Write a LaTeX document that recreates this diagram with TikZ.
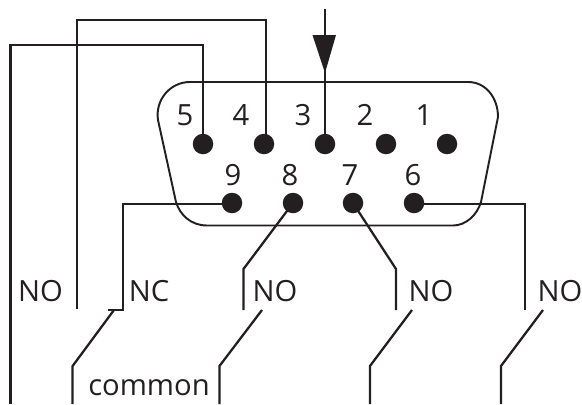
\documentclass[tikz,border=0pt]{standalone}
\usepackage{fontspec}
\setmainfont{Open Sans}
\definecolor{ink}{HTML}{231F20}
\tikzset{
  pin/.style={circle,fill=ink,inner sep=0pt,minimum size=20.5*0.75pt},
  lbl/.style={text=ink,inner sep=0pt,font=\fontsize{21.9pt}{24pt}\selectfont,anchor=center},
  wire/.style={draw=ink,line width=1.7pt,line join=miter},
  shell/.style={draw=ink,line width=1.45pt}
}
\begin{document}
\begin{tikzpicture}[x=0.75pt,y=-0.75pt]
\useasboundingbox (0,0) rectangle (582,404);
% shell
\draw[shell] (190,82) -- (468,82) .. controls (486,82) and (498,98) .. (498,117)
  -- (481,202) .. controls (477,215) and (466,225.5) .. (453,225.5)
  -- (207,225.5) .. controls (191,225.5) and (180,215) .. (176,202)
  -- (158,120) .. controls (155,100) and (170,82) .. (190,82) -- cycle;
% pins
\foreach \n/\x/\y in {p5/203/144,p4/264/144,p3/325/144,p2/386/144,p1/447/144,p9/232/203,p8/293/203,p7/353/203,p6/414/203}
  \node[pin] (\n) at (\x,\y) {};
% pin numbers
\foreach \n/\x/\y in {5/185/115,4/241/115,3/303/115,2/365/115,1/424/115,9/233/175,8/290/175,7/350/175,6/413/175}
  \node[lbl] (n\n) at (\x,\y) {\n};
% coordinates
\coordinate (top) at (325,9);
\coordinate (c4z) at (266,144);
\coordinate (c4a) at (266,20); \coordinate (c4b) at (77,20); \coordinate (c4c) at (77,309);
\coordinate (c5a) at (203,45); \coordinate (c5b) at (10.5,45); \coordinate (c5c) at (10.5,404);
\coordinate (c9a) at (123,204); \coordinate (c9b) at (123,310); \coordinate (c9c) at (108,310);
\coordinate (b1a) at (114,310); \coordinate (b1b) at (72.6,366); \coordinate (b1c) at (72.6,404);
\coordinate (c8a) at (243.5,269); \coordinate (c8b) at (243.5,310);
\coordinate (b2a) at (262,310); \coordinate (b2b) at (219.5,366); \coordinate (b2c) at (219.5,404);
\coordinate (c7a) at (396,269); \coordinate (c7b) at (396,310);
\coordinate (b3a) at (412,310); \coordinate (b3b) at (370,366); \coordinate (b3c) at (370,404);
\coordinate (c6z) at (414,204);
\coordinate (c6a) at (525,204); \coordinate (c6b) at (525,310);
\coordinate (c9z) at (232,204);
\coordinate (b4a) at (543,310); \coordinate (b4b) at (501,366); \coordinate (b4c) at (501,404);
% wires
\draw[wire] (top) -- (p3.center);
\fill[ink] (312.5,35) -- (336,35) -- (325,73) -- cycle;
\draw[wire] (c4z) -- (c4a) -- (c4b) -- (c4c);
\draw[wire] (p5.center) -- (c5a) -- (c5b) -- (c5c);
\draw[wire] (c9z) -- (c9a) -- (c9b) -- (c9c);
\draw[wire] (b1a) -- (b1b) -- (b1c);
\draw[wire] (p8.center) -- (c8a) -- (c8b);
\draw[wire] (b2a) -- (b2b) -- (b2c);
\draw[wire] (p7.center) -- (c7a) -- (c7b);
\draw[wire] (b3a) -- (b3b) -- (b3c);
\draw[wire] (c6z) -- (c6a) -- (c6b);
\draw[wire] (b4a) -- (b4b) -- (b4c);
% labels
\node[lbl] (l1) at (40.5,291) {NO};
\node[lbl] (l2) at (149,291) {NC};
\node[lbl] (l3) at (275,291) {NO};
\node[lbl] (l4) at (431,291) {NO};
\node[lbl] (l5) at (560,291) {NO};
\node[lbl] (l6) at (149,388) {common};
\end{tikzpicture}
\end{document}
